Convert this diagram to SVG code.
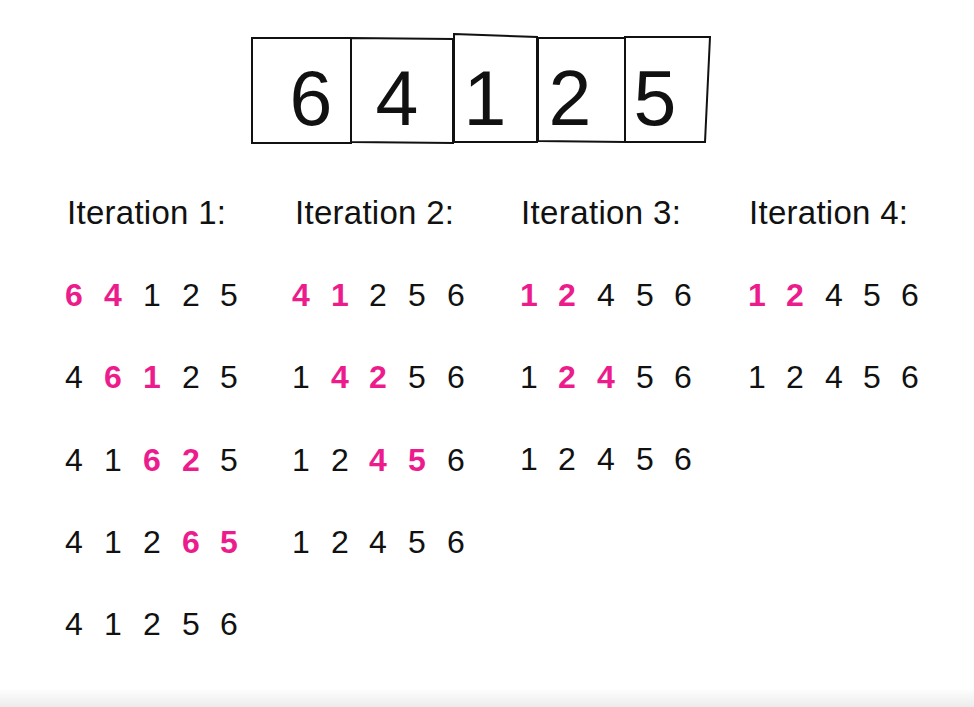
<svg xmlns="http://www.w3.org/2000/svg" width="974" height="707" viewBox="0 0 974 707">
<defs>
<linearGradient id="fade" x1="0" y1="0" x2="0" y2="1">
<stop offset="0" stop-color="#ffffff"/>
<stop offset="1" stop-color="#ececec"/>
</linearGradient>
</defs>
<style>
.box{fill:#fff;stroke:#111;stroke-width:2;stroke-linejoin:miter}
.big{font-family:"Liberation Sans",Arial,sans-serif;font-size:77px;fill:#111;text-anchor:middle}
.lbl{font-family:"Liberation Sans",Arial,sans-serif;font-size:33px;fill:#111}
.d{font-family:"Liberation Sans",Arial,sans-serif;font-size:32px;fill:#111;text-anchor:middle}
.p{fill:#EC1C8C;font-weight:bold}
</style>
<rect width="974" height="707" fill="#fff"/>
<rect x="0" y="688" width="974" height="19" fill="url(#fade)"/>
<g id="array">
<g id="box-6"><polygon class="box" points="252,38 351,38 351,143 252,143"/><text class="big" x="311" y="125">6</text></g>
<g id="box-4"><polygon class="box" points="351,38 453,39 453,143 351,142"/><text class="big" x="397" y="125">4</text></g>
<g id="box-1"><polygon class="box" points="454,34 537,37 537,142 454,142"/><text class="big" x="485" y="125">1</text></g>
<g id="box-2"><polygon class="box" points="538,38 625,38 625,142 538,141"/><text class="big" x="570" y="125">2</text></g>
<g id="box-5"><polygon class="box" points="625,37 710,37 705,142 625,142"/><text class="big" x="655" y="125">5</text></g>
</g>
<g id="iteration-1">
<text class="lbl" x="67" y="224" textLength="159" lengthAdjust="spacing">Iteration 1:</text>
<g transform="translate(0,306)">
<text class="d p" x="74">6</text><text class="d p" x="113">4</text><text class="d" x="152">1</text><text class="d" x="191">2</text><text class="d" x="229">5</text>
</g>
<g transform="translate(0,388)">
<text class="d" x="74">4</text><text class="d p" x="113">6</text><text class="d p" x="152">1</text><text class="d" x="191">2</text><text class="d" x="229">5</text>
</g>
<g transform="translate(0,471)">
<text class="d" x="74">4</text><text class="d" x="113">1</text><text class="d p" x="152">6</text><text class="d p" x="191">2</text><text class="d" x="229">5</text>
</g>
<g transform="translate(0,553)">
<text class="d" x="74">4</text><text class="d" x="113">1</text><text class="d" x="152">2</text><text class="d p" x="191">6</text><text class="d p" x="229">5</text>
</g>
<g transform="translate(0,635)">
<text class="d" x="74">4</text><text class="d" x="113">1</text><text class="d" x="152">2</text><text class="d" x="191">5</text><text class="d" x="229">6</text>
</g>
</g>
<g id="iteration-2">
<text class="lbl" x="295" y="224" textLength="159" lengthAdjust="spacing">Iteration 2:</text>
<g transform="translate(0,306)">
<text class="d p" x="301">4</text><text class="d p" x="340">1</text><text class="d" x="378">2</text><text class="d" x="417">5</text><text class="d" x="456">6</text>
</g>
<g transform="translate(0,388)">
<text class="d" x="301">1</text><text class="d p" x="340">4</text><text class="d p" x="378">2</text><text class="d" x="417">5</text><text class="d" x="456">6</text>
</g>
<g transform="translate(0,471)">
<text class="d" x="301">1</text><text class="d" x="340">2</text><text class="d p" x="378">4</text><text class="d p" x="417">5</text><text class="d" x="456">6</text>
</g>
<g transform="translate(0,553)">
<text class="d" x="301">1</text><text class="d" x="340">2</text><text class="d" x="378">4</text><text class="d" x="417">5</text><text class="d" x="456">6</text>
</g>
</g>
<g id="iteration-3">
<text class="lbl" x="521" y="224" textLength="160" lengthAdjust="spacing">Iteration 3:</text>
<g transform="translate(0,306)">
<text class="d p" x="529">1</text><text class="d p" x="567">2</text><text class="d" x="606">4</text><text class="d" x="645">5</text><text class="d" x="683">6</text>
</g>
<g transform="translate(0,388)">
<text class="d" x="529">1</text><text class="d p" x="567">2</text><text class="d p" x="606">4</text><text class="d" x="645">5</text><text class="d" x="683">6</text>
</g>
<g transform="translate(0,470)">
<text class="d" x="529">1</text><text class="d" x="567">2</text><text class="d" x="606">4</text><text class="d" x="645">5</text><text class="d" x="683">6</text>
</g>
</g>
<g id="iteration-4">
<text class="lbl" x="749" y="224" textLength="159" lengthAdjust="spacing">Iteration 4:</text>
<g transform="translate(0,306)">
<text class="d p" x="757">1</text><text class="d p" x="795">2</text><text class="d" x="834">4</text><text class="d" x="872">5</text><text class="d" x="910">6</text>
</g>
<g transform="translate(0,388)">
<text class="d" x="757">1</text><text class="d" x="795">2</text><text class="d" x="834">4</text><text class="d" x="872">5</text><text class="d" x="910">6</text>
</g>
</g>
</svg>
